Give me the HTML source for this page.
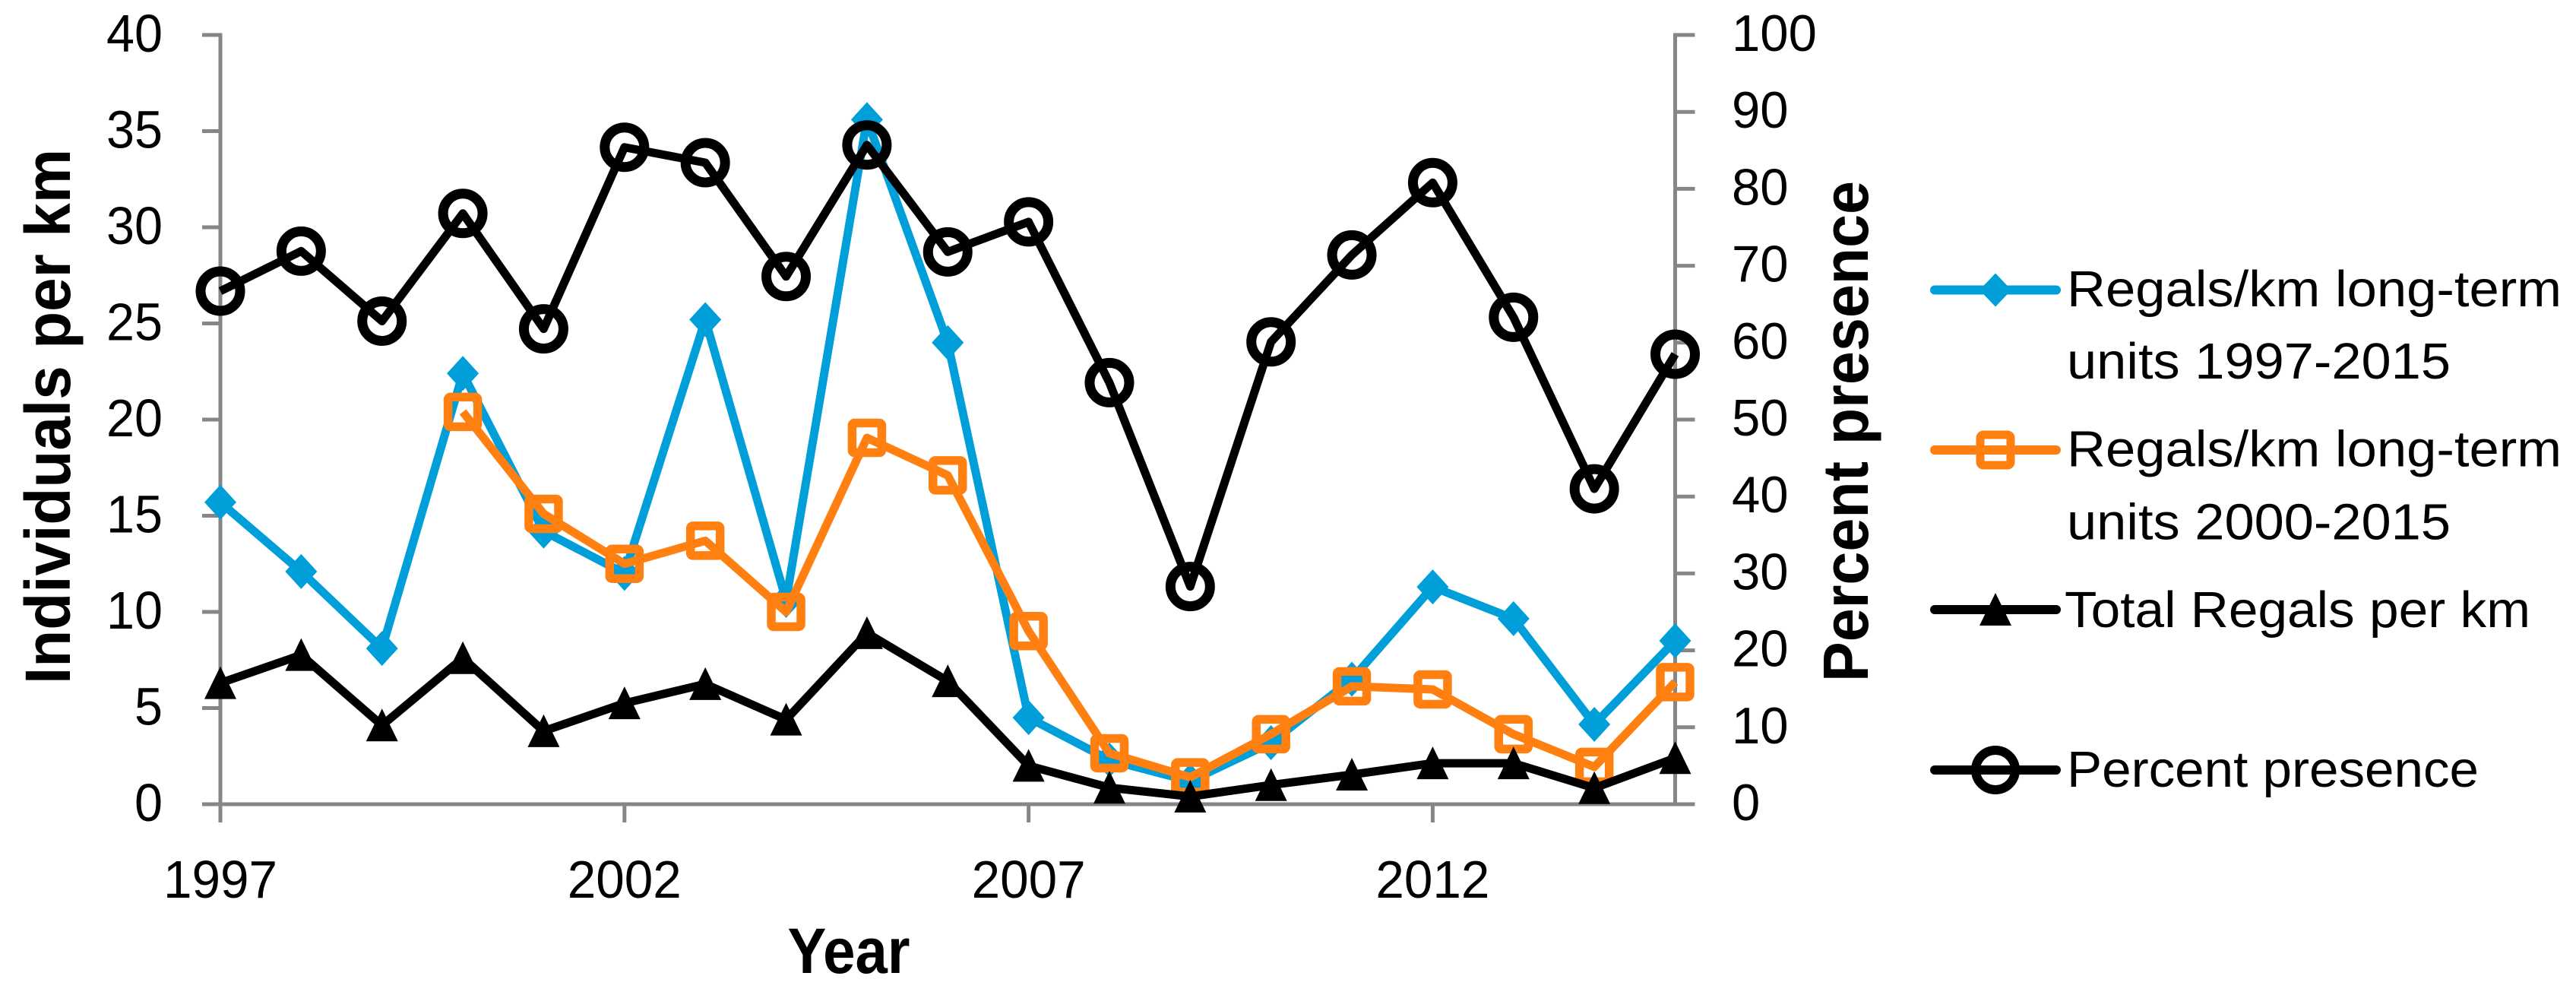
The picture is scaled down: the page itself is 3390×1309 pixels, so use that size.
<!DOCTYPE html>
<html lang="en">
<head>
<meta charset="utf-8">
<title>Regals per km and percent presence, 1997-2015</title>
<style>
html,body{margin:0;padding:0;background:#fff;}
svg{display:block;}
text{font-family:"Liberation Sans",sans-serif;fill:#000;}
</style>
</head>
<body>
<svg id="chart" width="3390" height="1309" viewBox="0 0 3390 1309" xmlns="http://www.w3.org/2000/svg">
  <rect x="0" y="0" width="3390" height="1309" fill="#ffffff"/>
  <g id="axes"></g>
  <g id="series"></g>

  <text transform="translate(92 548) rotate(-90)" text-anchor="middle" font-size="84" font-weight="700" textLength="704" lengthAdjust="spacingAndGlyphs">Individuals per km</text>
  <text transform="translate(2458 567.5) rotate(-90)" text-anchor="middle" font-size="84" font-weight="700" textLength="659" lengthAdjust="spacingAndGlyphs">Percent presence</text>
  <text x="1117" y="1280" text-anchor="middle" font-size="84" font-weight="700" textLength="161" lengthAdjust="spacingAndGlyphs">Year</text>

  <g>
    <g>
      <line x1="2546" y1="381.5" x2="2706" y2="381.5" stroke="#009fda" stroke-width="12" stroke-linecap="round"/>
      <polygon points="2626,359.5 2647,381.5 2626,403.5 2605,381.5" fill="#009fda"/>
      <text x="2720" y="403" font-size="67" textLength="651" lengthAdjust="spacingAndGlyphs">Regals/km long-term</text>
      <text x="2720" y="498" font-size="67" textLength="505" lengthAdjust="spacingAndGlyphs">units 1997-2015</text>
    </g>
    <g>
      <line x1="2546" y1="592" x2="2706" y2="592" stroke="#ff8011" stroke-width="12" stroke-linecap="round"/>
      <rect x="2606" y="572" width="40" height="40" rx="4" fill="none" stroke="#ff8011" stroke-width="11"/>
      <text x="2720" y="613.5" font-size="67" textLength="651" lengthAdjust="spacingAndGlyphs">Regals/km long-term</text>
      <text x="2720" y="709.5" font-size="67" textLength="505" lengthAdjust="spacingAndGlyphs">units 2000-2015</text>
    </g>
    <g>
      <line x1="2546" y1="802" x2="2706" y2="802" stroke="#000000" stroke-width="12" stroke-linecap="round"/>
      <polygon points="2626,780 2647,823 2605,823" fill="#000000"/>
      <text x="2717" y="825" font-size="67" textLength="613" lengthAdjust="spacingAndGlyphs">Total Regals per km</text>
    </g>
    <g>
      <line x1="2546" y1="1013" x2="2706" y2="1013" stroke="#000000" stroke-width="12" stroke-linecap="round"/>
      <circle cx="2626" cy="1013" r="26" fill="none" stroke="#000000" stroke-width="12"/>
      <text x="2720" y="1035" font-size="67" textLength="542" lengthAdjust="spacingAndGlyphs">Percent presence</text>
    </g>
  </g>
</svg>
<script>
// Chart data
const years = [1997,1998,1999,2000,2001,2002,2003,2004,2005,2006,2007,2008,2009,2010,2011,2012,2013,2014,2015];
const longTerm1997 = [15.7,12.1,8.1,22.4,14.2,12.0,25.2,10.6,35.6,24.0,4.5,2.3,1.2,3.2,6.5,11.3,9.65,4.15,8.5];
const longTerm2000 = [null,null,null,20.4,15.1,12.5,13.7,10.0,19.05,17.1,9.0,2.65,1.4,3.64,6.13,5.97,3.64,1.94,6.35];
const totalRegals = [6.3,7.76,4.1,7.6,3.8,5.25,6.25,4.4,8.9,6.4,2.0,0.86,0.4,1.0,1.54,2.13,2.13,0.84,2.4];
const percentPresence = [66.7,71.9,62.8,76.8,61.8,85.4,83.4,68.6,85.7,71.8,75.7,54.8,28.3,60.1,71.4,80.8,63.3,41.0,58.5];
const leftTicks = [0,5,10,15,20,25,30,35,40];
const rightTicks = [0,10,20,30,40,50,60,70,80,90,100];
const xTickLabels = [1997,2002,2007,2012];

const NS = 'http://www.w3.org/2000/svg';
const plot = {left:290, right:2204.5, top:46, bottom:1058};
const AXIS = '#868686';

function xScale(year){
  return plot.left + (year - years[0]) * (plot.right - plot.left) / (years[years.length-1] - years[0]);
}
function yLeft(v){
  return plot.bottom - v * (plot.bottom - plot.top) / leftTicks[leftTicks.length-1];
}
function yRight(v){
  return plot.bottom - v * (plot.bottom - plot.top) / rightTicks[rightTicks.length-1];
}
function make(tag, parent, attrs){
  const node = document.createElementNS(NS, tag);
  for (const k in attrs) node.setAttribute(k, attrs[k]);
  parent.appendChild(node);
  return node;
}

const axes = document.getElementById('axes');
const seriesRoot = document.getElementById('series');

// Axis lines
const leftAxis = make('line', axes, {x1:plot.left, y1:plot.top-2.5, x2:plot.left, y2:plot.bottom+24, stroke:AXIS, 'stroke-width':5});


const rightAxis = make('line', axes, {x1:plot.right, y1:plot.top-2.5, x2:plot.right, y2:plot.bottom+2.5, stroke:AXIS, 'stroke-width':5});


const bottomAxis = make('line', axes, {x1:plot.left-24, y1:plot.bottom, x2:plot.right, y2:plot.bottom, stroke:AXIS, 'stroke-width':5});



// Left ticks and labels
leftTicks.forEach(function(t){
  const y = yLeft(t);
  const tick = make('line', axes, {x1:plot.left-24, y1:y, x2:plot.left, y2:y, stroke:AXIS, 'stroke-width':5});
  
  
  const s = String(t);
  const label = make('text', axes, {x:214, y:y+22, 'text-anchor':'end', 'font-size':70, textLength:s.length*37, lengthAdjust:'spacingAndGlyphs'});
  label.textContent = s;
  
  
});

// Right ticks and labels
rightTicks.forEach(function(t){
  const y = yRight(t);
  const tick = make('line', axes, {x1:plot.right, y1:y, x2:plot.right+26, y2:y, stroke:AXIS, 'stroke-width':5});
  
  
  const s = String(t);
  const label = make('text', axes, {x:2279, y:y+21, 'font-size':68, textLength:s.length*37.3, lengthAdjust:'spacingAndGlyphs'});
  label.textContent = s;
  
  
});

// X ticks and labels
xTickLabels.forEach(function(yr){
  const x = xScale(yr);
  const tick = make('line', axes, {x1:x, y1:plot.bottom, x2:x, y2:plot.bottom+24, stroke:AXIS, 'stroke-width':5});
  
  
  const label = make('text', axes, {x:x, y:1181, 'text-anchor':'middle', 'font-size':70, textLength:150, lengthAdjust:'spacingAndGlyphs'});
  label.textContent = String(yr);
  
  
});

function drawLine(parent, values, yFn, color, width){
  const pts = [];
  values.forEach(function(v, i){
    if (v !== null) pts.push(xScale(years[i]) + ',' + yFn(v));
  });
  return make('polyline', parent, {points:pts.join(' '), fill:'none', stroke:color, 'stroke-width':width, 'stroke-linejoin':'round'});
}

// Series 1: long-term units 1997-2015 (diamonds)
const blueGroup = make('g', seriesRoot, {});


const blueLine = drawLine(blueGroup, longTerm1997, yLeft, '#009fda', 11);


longTerm1997.forEach(function(v, i){
  const x = xScale(years[i]), y = yLeft(v);
  const m = make('polygon', blueGroup, {points:[x+','+(y-23), (x+21)+','+y, x+','+(y+23), (x-21)+','+y].join(' '), fill:'#009fda'});
  
  
});

// Series 2: long-term units 2000-2015 (hollow squares)
const orangeGroup = make('g', seriesRoot, {});


const orangeLine = drawLine(orangeGroup, longTerm2000, yLeft, '#ff8011', 11);


longTerm2000.forEach(function(v, i){
  if (v === null) return;
  const x = xScale(years[i]), y = yLeft(v);
  const m = make('rect', orangeGroup, {x:x-19.5, y:y-19.5, width:39, height:39, rx:3, fill:'none', stroke:'#ff8011', 'stroke-width':11.5});
  
  
});

// Series 3: total Regals per km (triangles)
const totalGroup = make('g', seriesRoot, {});


const totalLine = drawLine(totalGroup, totalRegals, yLeft, '#000000', 11);


totalRegals.forEach(function(v, i){
  const x = xScale(years[i]), y = yLeft(v);
  const m = make('polygon', totalGroup, {points:[x+','+(y-22), (x+21)+','+(y+21), (x-21)+','+(y+21)].join(' '), fill:'#000000'});
  
  
});

// Series 4: percent presence on the right axis (hollow circles)
const percentGroup = make('g', seriesRoot, {});


const percentLine = drawLine(percentGroup, percentPresence, yRight, '#000000', 11);


percentPresence.forEach(function(v, i){
  const m = make('circle', percentGroup, {cx:xScale(years[i]), cy:yRight(v), r:26, fill:'none', stroke:'#000000', 'stroke-width':13});
  
  
});
</script>
</body>
</html>
